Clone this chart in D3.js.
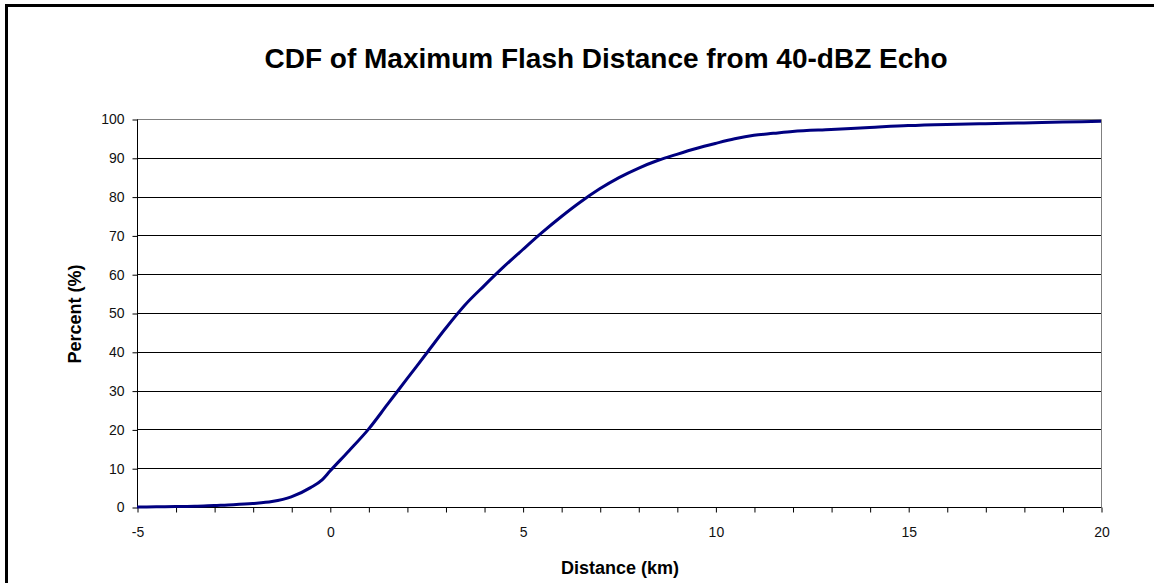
<!DOCTYPE html>
<html>
<head>
<meta charset="utf-8">
<script src="https://cdn.jsdelivr.net/npm/d3@7/dist/d3.min.js"></script>
<style>
  body { margin: 0; background: #fff; }
  svg text { font-family: 'Liberation Sans', Arial, sans-serif; }
</style>
</head>
<body>
<svg width="1154" height="583"></svg>
<script>
// Chart data
var distanceKm = [-5, -4.5, -4, -3.5, -3, -2.5, -2, -1.5, -1, -0.5, -0.2, 0, 0.5, 1, 1.5, 2, 2.5, 3, 3.5, 4,
    4.5, 5, 5.5, 6, 6.5, 7, 7.5, 8, 8.5, 9, 9.5, 10, 10.5, 11, 11.5, 12, 13, 14, 15, 16, 17, 18, 19, 20];
var percentCdf = [0, 0.05, 0.1, 0.2, 0.4, 0.6, 0.9, 1.4, 2.6, 5.0, 7.0, 9.2, 14.5, 20, 26.5, 33, 39.5, 46, 52, 57,
    61.8, 66.3, 70.7, 74.8, 78.6, 82.0, 84.9, 87.3, 89.3, 90.9, 92.4, 93.7, 94.9, 95.8, 96.3, 96.8, 97.3, 97.8, 98.3, 98.6, 98.8, 99.0, 99.2, 99.4];
var xTickLabels = [-5, 0, 5, 10, 15, 20];
var yTickLabels = [0, 10, 20, 30, 40, 50, 60, 70, 80, 90, 100];

var titleText = "CDF of Maximum Flash Distance from 40-dBZ Echo";
var xTitle = "Distance (km)";
var yTitle = "Percent (%)";

var svg = d3.select("svg");
var plotLeft = 137, plotRight = 1101, plotTop = 119, plotBottom = 507;

var x = d3.scaleLinear().domain([-5, 20]).range([plotLeft, plotRight]);
var y = d3.scaleLinear().domain([0, 100]).range([plotBottom, plotTop]);

// outer chart frame (only left/top edges fall inside the picture)
svg.append("rect")
    .attr("x", 6.5).attr("y", 5.5)
    .attr("width", 1300).attr("height", 700)
    .attr("fill", "none").attr("stroke", "#000").attr("stroke-width", 3);

// title
svg.append("text")
    .attr("x", 606).attr("y", 68)
    .attr("text-anchor", "middle")
    .attr("font-size", "28px").attr("font-weight", "bold")
    .text(titleText);

// gridlines
svg.append("g")
    .selectAll("line")
    .data(yTickLabels.filter(function (d) { return d > 0 && d < 100; }))
    .enter()
    .append("line")
    .attr("x1", plotLeft).attr("x2", plotRight)
    .attr("y1", function (d) { return Math.round(y(d)) + 0.5; })
    .attr("y2", function (d) { return Math.round(y(d)) + 0.5; })
    .attr("stroke", "#000").attr("stroke-width", 1);

// plot area border top/right
svg.append("path")
    .attr("d", "M" + plotLeft + "," + (plotTop + 0.5) + "H" + (plotRight + 0.5) + "V" + plotBottom)
    .attr("fill", "none").attr("stroke", "#808080").attr("stroke-width", 1);

// y axis
var yAxis = svg.append("g")
    .attr("transform", "translate(" + (plotLeft + 0.5) + ",0.5)")
    .call(d3.axisLeft(y).tickValues(yTickLabels).tickSize(5).tickPadding(8));
yAxis.selectAll("text").attr("font-size", "14px").attr("fill", "#111")
    .attr("font-family", null);
yAxis.select(".domain").attr("d", "M0," + plotTop + "V" + plotBottom);

// x axis, minor ticks every km, labels every 5
var xAxis = svg.append("g")
    .attr("transform", "translate(0.5," + (plotBottom + 0.5) + ")")
    .call(d3.axisBottom(x).tickValues(d3.range(-5, 21, 1)).tickSize(5).tickPadding(15)
        .tickFormat(function (d) { return xTickLabels.indexOf(d) >= 0 ? d : ""; }));
xAxis.selectAll("text").attr("font-size", "14px").attr("fill", "#111")
    .attr("font-family", null);
xAxis.select(".domain").attr("d", "M" + plotLeft + ",0H" + plotRight);

// axis titles
svg.append("text")
    .attr("x", 620).attr("y", 574)
    .attr("text-anchor", "middle")
    .attr("font-size", "18px").attr("font-weight", "bold")
    .text(xTitle);

svg.append("text")
    .attr("transform", "translate(81,314) rotate(-90)")
    .attr("text-anchor", "middle")
    .attr("font-size", "18px").attr("font-weight", "bold")
    .text(yTitle);

// the CDF curve
var line = d3.line()
    .x(function (d, i) { return x(distanceKm[i]); })
    .y(function (d) { return y(d); })
    .curve(d3.curveMonotoneX);

svg.append("path")
    .datum(percentCdf)
    .attr("d", line)
    .attr("fill", "none")
    .attr("stroke", "#000080")
    .attr("stroke-width", 3)
    .attr("stroke-linejoin", "round");
</script>
</body>
</html>
